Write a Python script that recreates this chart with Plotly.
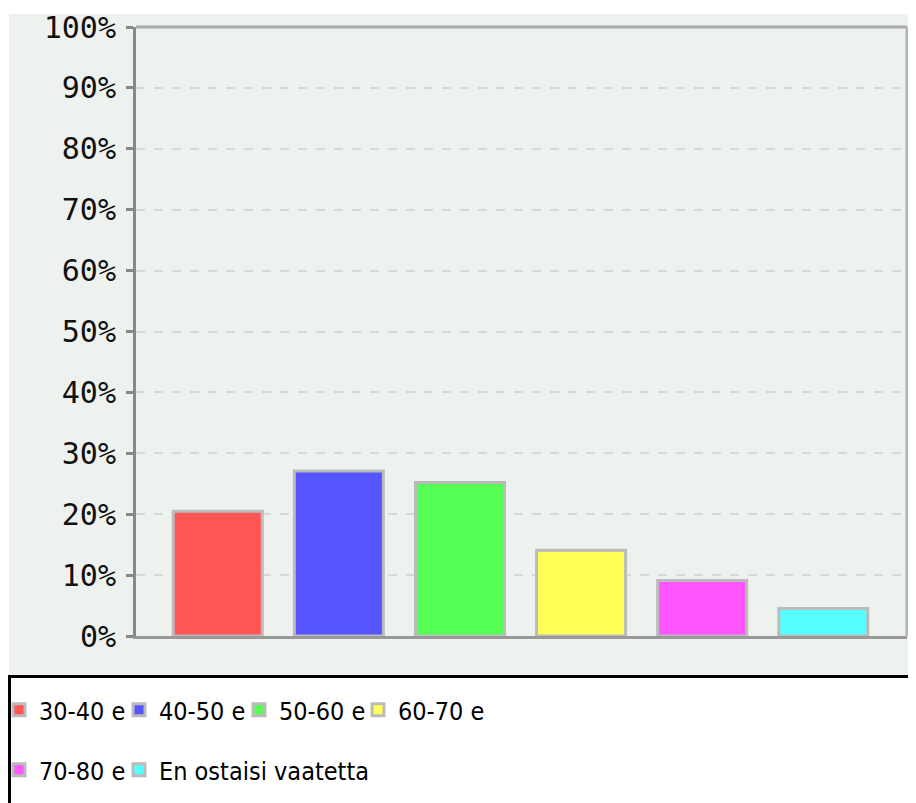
import plotly.graph_objects as go

categories = ["30-40 e", "40-50 e", "50-60 e", "60-70 e", "70-80 e", "En ostaisi vaatetta"]
values = [20.5, 27.1, 25.2, 14.1, 9.1, 4.5]
colors = ["#ff5555", "#5555ff", "#55ff55", "#ffff55", "#ff55ff", "#55ffff"]
y_ticks = [0, 10, 20, 30, 40, 50, 60, 70, 80, 90, 100]
y_tick_labels = [f"{v}%" for v in y_ticks]

# page has an 8px body margin: work in page pixels and convert
OFF = 8
W, H = 916 - OFF, 803 - OFF
L, R, T, B = 136, 907, 27, 636  # plot area, page pixels
pw, ph = R - L, B - T

def px(x):
    return (x - L) / pw

def py(y):
    return (B - y) / ph

# legend item positions (page px): swatch centre x, row centre y
legend_pos = [(18, 710), (138, 710), (258, 710), (377, 710), (18, 770), (138, 770)]

fig = go.Figure()
legend_layout = {}
for i, (c, v, col) in enumerate(zip(categories, values, colors)):
    lname = "legend" if i == 0 else f"legend{i + 1}"
    fig.add_trace(go.Bar(
        x=[c], y=[v], name=c,
        marker=dict(color=col, line=dict(color="#bbbbbb", width=3)),
        width=0.735,
        legend=lname,
        hoverinfo="skip",
    ))
    sx, sy = legend_pos[i]
    legend_layout[lname] = dict(
        orientation="h", x=px(sx - 19), y=py(sy), xanchor="left", yanchor="middle",
        bgcolor="rgba(0,0,0,0)", borderwidth=0,
        font=dict(family="DejaVu Sans Condensed", size=25, color="black"),
        itemwidth=30,
    )

bg = "#eef2ee"
fig.update_layout(
    width=W, height=H,
    margin=dict(l=L - OFF, r=W - (R - OFF), t=T - OFF, b=H - (B - OFF), autoexpand=False),
    paper_bgcolor="white",
    plot_bgcolor=bg,
    barmode="overlay",
    showlegend=True,
    font=dict(family="DejaVu Sans Mono", color="#111111"),
    shapes=[
        dict(type="rect", xref="paper", yref="paper", layer="below",
             x0=px(9), x1=px(930), y0=py(675), y1=py(14),
             fillcolor=bg, line=dict(width=0)),
        dict(type="rect", xref="paper", yref="paper", layer="below",
             x0=px(9.5), x1=px(940), y0=py(840), y1=py(676.5),
             fillcolor="white", line=dict(color="black", width=3)),
    ],
    **legend_layout,
)

fig.update_xaxes(
    type="category", categoryorder="array", categoryarray=categories,
    range=[-0.675, 5.691], showticklabels=False, ticks="",
    showgrid=False, zeroline=False,
    showline=True, linecolor="#999999", linewidth=3, mirror=False,
)
fig.update_yaxes(
    range=[0, 100], tickvals=y_ticks, ticktext=y_tick_labels,
    tickfont=dict(family="DejaVu Sans Mono", size=30, color="#111111"),
    ticks="outside", ticklen=7, tickwidth=3, tickcolor="#888888",
    ticklabelstandoff=4,
    showgrid=True, gridcolor="#d6d9d6", gridwidth=2, griddash="dash",
    zeroline=False,
    showline=True, linecolor="#888888", linewidth=3, mirror=False,
)

# plot outline (top and right)
fig.add_shape(type="line", xref="paper", yref="paper", x0=0, x1=1, y0=1, y1=1,
              line=dict(color="#aaaaaa", width=3))
fig.add_shape(type="line", xref="paper", yref="paper", x0=1, x1=1, y0=0, y1=1,
              line=dict(color="#b4b4b4", width=3))

fig.write_html("out.html")
